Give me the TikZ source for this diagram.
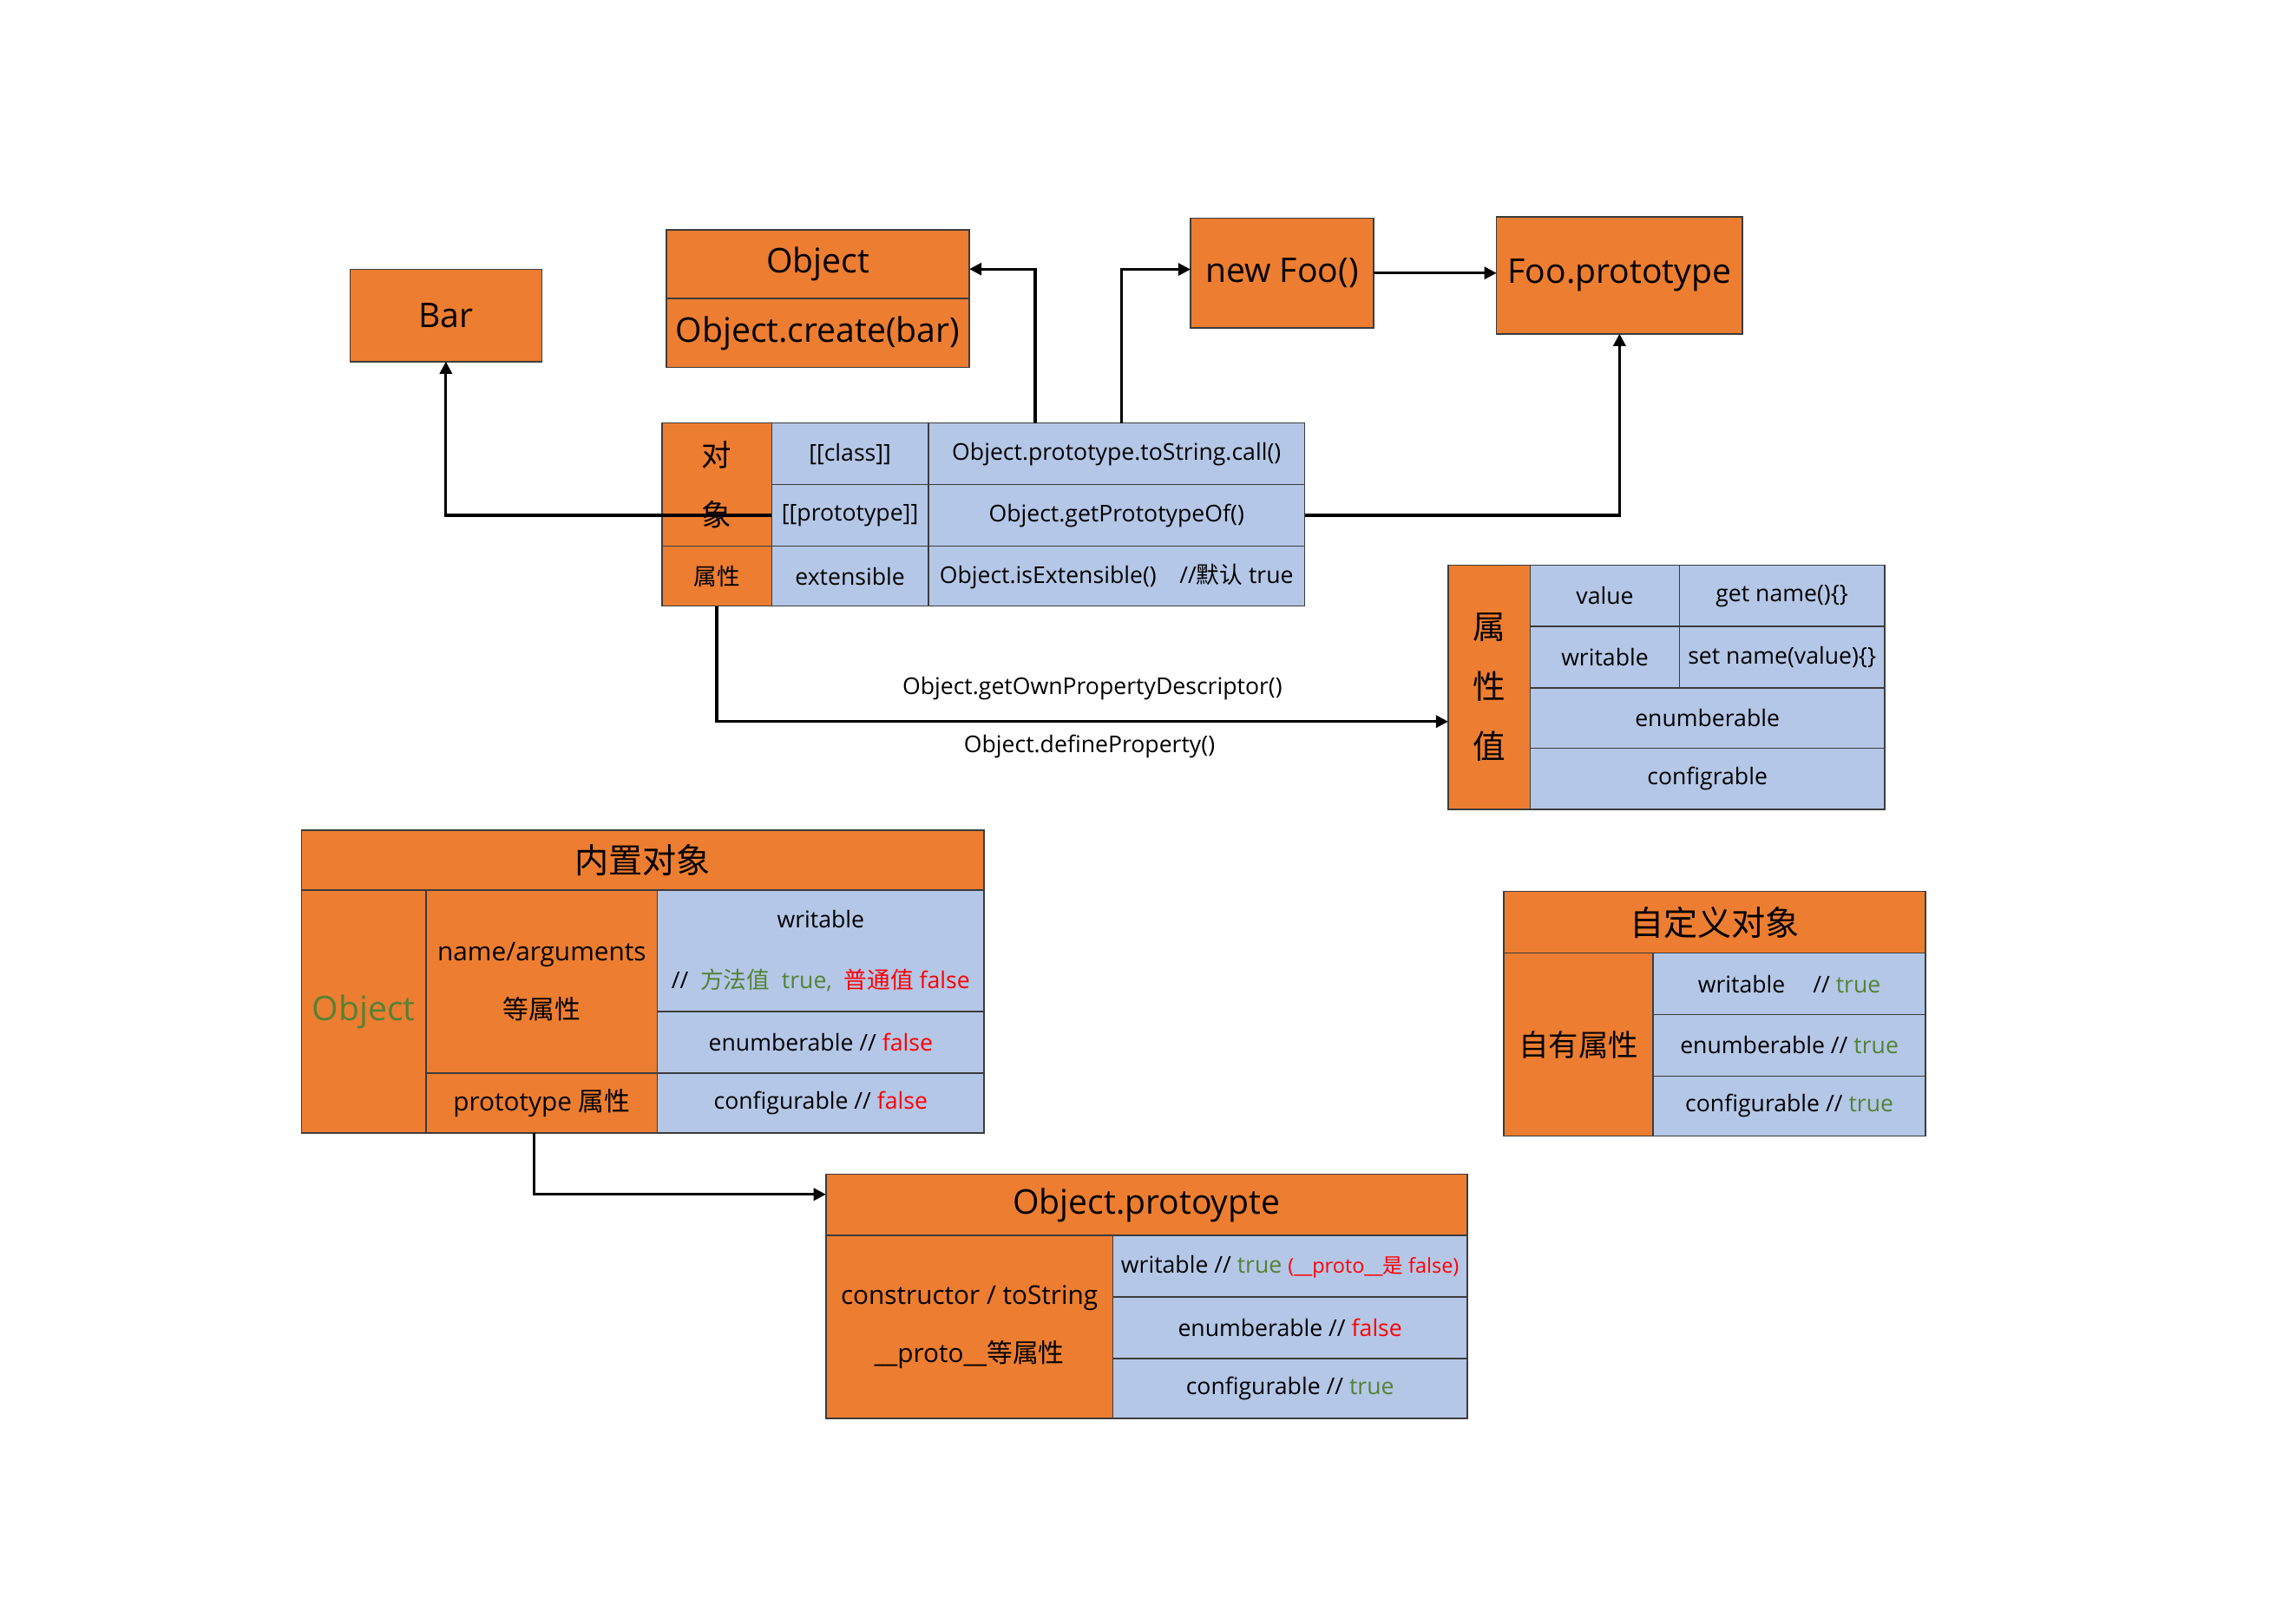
\documentclass[tikz,border=0pt]{standalone}
\usepackage{fontspec}
\setmainfont{Open Sans}
\newfontfamily\cjk{Noto Sans CJK SC}
\newcommand\zh[1]{{\cjk #1}}
\usetikzlibrary{calc,arrows.meta}
\definecolor{org}{HTML}{ED7D31}
\definecolor{blu}{HTML}{B4C7E7}
\definecolor{grn}{HTML}{548235}
\definecolor{rd}{HTML}{FF0000}
\definecolor{edgec}{HTML}{3C3C3C}
\begin{document}
\begin{tikzpicture}[x=0.018941cm,y=-0.018941cm,
  cell/.style={draw=edgec, line width=0.5pt, inner sep=0pt, outer sep=0pt, align=center, text=black},
  oc/.style={cell, fill=org},
  bc/.style={cell, fill=blu},
  span/.style n args={4}{at={({(#1+#3)/2},{(#2+#4)/2})}, minimum width={(#3-#1)*0.018941cm}, minimum height={(#4-#2)*0.018941cm}},
  big/.style={font=\fontsize{12.5}{15}\selectfont},
  mid/.style={font=\fontsize{9.5}{21.5}\selectfont},
  sml/.style={font=\fontsize{8.5}{22.4}\selectfont},
  conn/.style={line width=1pt, -{Triangle[length=4.5pt,width=4.5pt]}},
]
\useasboundingbox (0,0) rectangle (1568,1109);
\fill[white] (0,0) rectangle (1568,1109);

% top boxes
\node[oc, big, span={239}{184}{370}{247}] (bar) {Bar};
\node[oc, big, span={455}{157}{662}{204}] (objt) {Object};
\node[oc, big, span={455}{204}{662}{251}] (objc) {Object.create(bar)};
\node[oc, big, span={813}{149}{938}{224}] (newfoo) {new Foo()};
\node[oc, big, span={1022}{148}{1190}{228}] (fooproto) {Foo.prototype};

% object table
\node[oc, font=\cjk\fontsize{11}{22}\selectfont, span={452}{289}{527}{373}] (dx) {对\\象};
\node[oc, sml, span={452}{373}{527}{414}] (sx) {\zh{属性}};
\node[bc, sml, span={527}{289}{634}{331}] (cls) {[[class]]};
\node[bc, sml, span={527}{331}{634}{373}] (ptype) {[[prototype]]};
\node[bc, sml, span={527}{373}{634}{414}] (ext) {extensible};
\node[bc, sml, span={634}{289}{891}{331}] (tostr) {Object.prototype.toString.call()};
\node[bc, sml, span={634}{331}{891}{373}] (gpo) {Object.getPrototypeOf()};
\node[bc, sml, span={634}{373}{891}{414}] (isext) {Object.isExtensible()\hspace{1em}//\zh{默认} true};

% property value table
\node[oc, font=\cjk\fontsize{12}{22}\selectfont, span={989}{386}{1045}{553}] (pv) {属\\性\\值};
\node[bc, sml, span={1045}{386}{1147}{428}] (val) {value};
\node[bc, sml, span={1147}{386}{1287}{428}] (getn) {get name()\{\}};
\node[bc, sml, span={1045}{428}{1147}{470}] (wrt) {writable};
\node[bc, sml, span={1147}{428}{1287}{470}] (setn) {set name(value)\{\}};
\node[bc, sml, span={1045}{470}{1287}{511}] (enm) {enumberable};
\node[bc, sml, span={1045}{511}{1287}{553}] (cfg) {configrable};

% built-in object table
\node[oc, font=\cjk\fontsize{12.5}{15}\selectfont, span={206}{567}{672}{608}] (hdra) {内置对象};
\node[oc, big, text=grn, span={206}{608}{291}{774}] (objg) {Object};
\node[oc, mid, span={291}{608}{449}{733}] (namearg) {name/arguments\\\zh{等属性}};
\node[oc, mid, span={291}{733}{449}{774}] (ptattr) {prototype \zh{属性}};
\node[bc, sml, span={449}{608}{672}{691}] (wa) {writable\\//\ \ \textcolor{grn}{\zh{方法值}\ \ true,}\ \ \textcolor{rd}{\zh{普通值} false}};
\node[bc, sml, span={449}{691}{672}{733}] (ea) {enumberable // \textcolor{rd}{false}};
\node[bc, sml, span={449}{733}{672}{774}] (ca) {configurable // \textcolor{rd}{false}};

% Object.protoypte table
\node[oc, big, span={564}{802}{1002}{844}] (hdrb) {Object.protoypte};
\node[oc, mid, span={564}{844}{760}{969}] (ctor) {constructor / toString\\\_\_proto\_\_\zh{等属性}};
\node[bc, sml, span={760}{844}{1002}{886}] (wb) {writable // \textcolor{grn}{true} {\fontsize{7.5}{9}\selectfont\textcolor{rd}{(\_\_proto\_\_\zh{是} false)}}};
\node[bc, sml, span={760}{886}{1002}{928}] (eb) {enumberable // \textcolor{rd}{false}};
\node[bc, sml, span={760}{928}{1002}{969}] (cb) {configurable // \textcolor{grn}{true}};

% custom object table
\node[oc, font=\cjk\fontsize{12.5}{15}\selectfont, span={1027}{609}{1315}{651}] (hdrc) {自定义对象};
\node[oc, font=\cjk\fontsize{11}{15}\selectfont, span={1027}{651}{1129}{776}] (own) {自有属性};
\node[bc, sml, span={1129}{651}{1315}{693}] (wc) {writable\hspace{1.2em}// \textcolor{grn}{true}};
\node[bc, sml, span={1129}{693}{1315}{735}] (ec) {enumberable // \textcolor{grn}{true}};
\node[bc, sml, span={1129}{735}{1315}{776}] (cc) {configurable // \textcolor{grn}{true}};

% connectors
\draw[conn] ($(tostr.north west)!0.284!(tostr.north east)$) |- ($(objt.north east)!0.57!(objt.south east)$);
\draw[conn] ($(tostr.north west)!0.514!(tostr.north east)$) |- ($(newfoo.north west)!0.467!(newfoo.south west)$);
\draw[conn] (newfoo.east) -- (newfoo.east -| fooproto.west);
\draw[conn] (gpo.east) -| (fooproto.south);
\draw[conn] (ptype.west) -| (bar.south);
\draw[conn] (sx.south) |- ($(pv.north west)!0.64!(pv.south west)$);
\node[sml] (lbla) at (746,470) {Object.getOwnPropertyDescriptor()};
\node[sml] (lblb) at (744,510) {Object.defineProperty()};
\draw[conn] ($(ptattr.south west)!0.468!(ptattr.south east)$) |- ($(hdrb.north west)!0.33!(hdrb.south west)$);
\end{tikzpicture}
\end{document}
